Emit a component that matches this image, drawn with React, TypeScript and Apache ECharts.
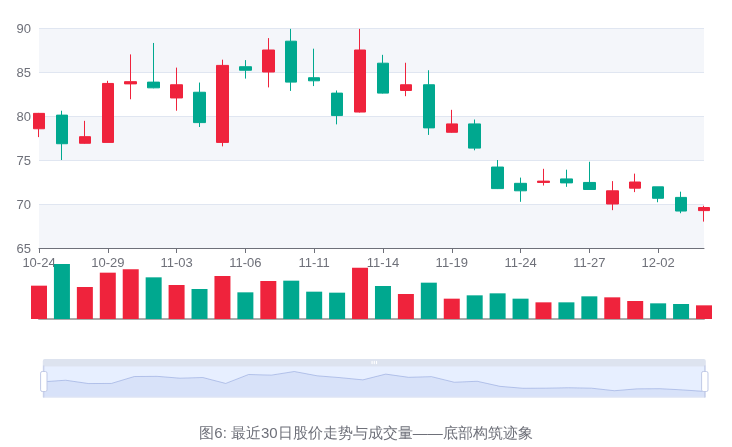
import { useEffect, useRef } from "react";
import * as echarts from "echarts";

const dates = [
  "10-24", "10-27", "10-28", "10-29", "10-30", "10-31", "11-03", "11-04", "11-05", "11-06",
  "11-07", "11-10", "11-11", "11-12", "11-13", "11-14", "11-17", "11-18", "11-19", "11-20",
  "11-21", "11-24", "11-25", "11-26", "11-27", "11-28", "12-01", "12-02", "12-03", "12-04",
];

// [open, close, low, high]
const ohlc = [
  [78.55, 80.3, 77.6, 80.35],
  [80.1, 76.85, 75.0, 80.6],
  [76.9, 77.65, 76.85, 79.45],
  [77.0, 83.7, 77.0, 84.0],
  [83.65, 83.9, 81.9, 87.0],
  [83.85, 83.2, 83.15, 88.3],
  [82.05, 83.55, 80.6, 85.5],
  [82.7, 79.25, 78.75, 83.8],
  [77.0, 85.75, 76.55, 86.4],
  [85.6, 85.2, 84.25, 86.35],
  [85.0, 87.5, 83.25, 88.85],
  [88.5, 83.85, 82.85, 89.9],
  [84.35, 84.0, 83.4, 87.65],
  [82.6, 80.05, 79.05, 82.9],
  [80.45, 87.5, 80.4, 89.9],
  [86.0, 82.6, 82.55, 86.95],
  [82.9, 83.55, 82.25, 86.05],
  [83.55, 78.65, 77.85, 85.2],
  [78.15, 79.1, 78.1, 80.7],
  [79.1, 76.35, 76.1, 79.6],
  [74.2, 71.75, 71.7, 75.0],
  [72.35, 71.5, 70.25, 73.0],
  [72.45, 72.6, 72.1, 74.0],
  [72.85, 72.4, 71.95, 73.9],
  [72.45, 71.65, 71.65, 74.8],
  [70.0, 71.5, 69.3, 72.6],
  [71.8, 72.5, 71.35, 73.45],
  [71.95, 70.65, 70.2, 71.95],
  [70.75, 69.2, 68.95, 71.4],
  [69.25, 69.6, 68.0, 69.8],
];

// 成交量（万股）
const volumes = [
  1000, 1650, 960, 1390, 1490, 1250, 1020, 900, 1290, 800,
  1140, 1150, 820, 790, 1540, 990, 750, 1090, 610, 710,
  770, 610, 500, 500, 680, 650, 540, 470, 450, 410,
];

const UP = "#ef233c";
const DOWN = "#00a88f";

export default function App() {
  const ref = useRef<HTMLDivElement | null>(null);

  useEffect(() => {
    if (!ref.current) return;
    const chart = echarts.init(ref.current, null, { renderer: "svg" });

    const volData = volumes.map((v, i) => ({
      value: v,
      itemStyle: { color: ohlc[i][1] >= ohlc[i][0] ? UP : DOWN },
    }));

    chart.setOption({
      animation: false,
      title: {
        text: "图6: 最近30日股价走势与成交量——底部构筑迹象",
        left: "center",
        top: 420,
        textStyle: { fontSize: 15, fontWeight: "normal", color: "#6e7079" },
      },
      grid: [
        { left: 39, right: 28, top: 28, height: 220 },
        { left: 39, right: 28, top: 264, height: 55 },
      ],
      xAxis: [
        {
          type: "category",
          data: dates,
          gridIndex: 0,
          boundaryGap: false,
          axisLine: { lineStyle: { color: "#6e7079" } },
          axisTick: { interval: 2 },
          axisLabel: { interval: 2, color: "#6e7079", fontSize: 13 },
        },
        {
          type: "category",
          data: dates,
          gridIndex: 1,
          boundaryGap: false,
          axisLine: { lineStyle: { color: "#aaaaaa", width: 2 } },
          axisTick: { show: false },
          axisLabel: { show: false },
        },
      ],
      yAxis: [
        {
          type: "value",
          gridIndex: 0,
          min: 65,
          max: 90,
          interval: 5,
          axisLabel: { color: "#6e7079", fontSize: 13 },
          splitLine: { lineStyle: { color: "#e0e6f1" } },
          splitArea: { show: true },
        },
        {
          type: "value",
          gridIndex: 1,
          min: 0,
          max: "dataMax",
          show: false,
          splitLine: { show: false },
        },
      ],
      dataZoom: [
        {
          type: "slider",
          xAxisIndex: [0, 1],
          start: 0,
          end: 100,
          left: 40,
          right: 29,
          top: 359,
          height: 32,
          showDetail: false,
          moveHandleStyle: { color: "#dde3ef", opacity: 1 },
        },
      ],
      series: [
        {
          type: "candlestick",
          name: "日K",
          xAxisIndex: 0,
          yAxisIndex: 0,
          data: ohlc,
          barWidth: 12,
          itemStyle: {
            color: UP,
            color0: DOWN,
            borderColor: UP,
            borderColor0: DOWN,
          },
        },
        {
          type: "bar",
          name: "成交量",
          xAxisIndex: 1,
          yAxisIndex: 1,
          data: volData,
          barWidth: 16,
        },
      ],
    });

    return () => chart.dispose();
  }, []);

  return (
    <div
      ref={ref}
      style={{ position: "fixed", left: 0, top: 0, width: 732, height: 447 }}
    />
  );
}
